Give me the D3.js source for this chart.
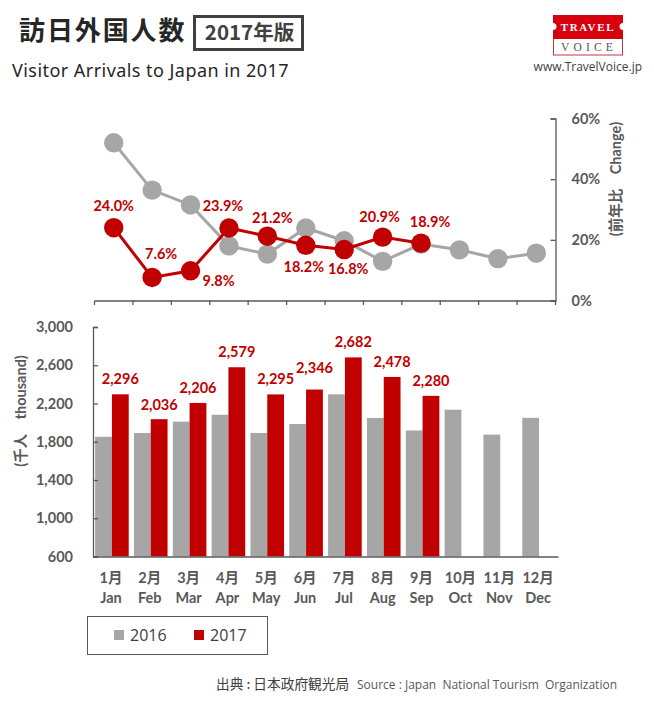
<!DOCTYPE html>
<html>
<head>
<meta charset="utf-8">
<script src="https://d3js.org/d3.v7.min.js"></script>
<style>
  body { margin: 0; background: #fff; }
  text { font-family: Lato, "Noto Sans CJK JP", sans-serif; }
  .jp { font-family: "Noto Sans CJK JP", sans-serif; }
  .axis-label { fill: #595959; font-weight: 700; font-size: 14.5px; }
  .value-label { fill: #C00000; font-weight: 700; font-size: 14.5px; }
</style>
</head>
<body>
<div id="chart"></div>
<script>
// Data
var months = ["1月", "2月", "3月", "4月", "5月", "6月", "7月", "8月", "9月", "10月", "11月", "12月"];
var monthsEn = ["Jan", "Feb", "Mar", "Apr", "May", "Jun", "Jul", "Aug", "Sep", "Oct", "Nov", "Dec"];
var visitors2016 = [1852, 1891, 2010, 2082, 1892, 1985, 2296, 2049, 1918, 2135, 1875, 2050];
var visitors2017 = [2296, 2036, 2206, 2579, 2295, 2346, 2682, 2478, 2280];
var change2016 = [52.0, 36.4, 31.5, 18.0, 15.3, 23.9, 19.7, 12.9, 18.6, 16.7, 13.8, 15.6];
var change2017 = [24.0, 7.6, 9.8, 23.9, 21.2, 18.2, 16.8, 20.9, 18.9];
var barTicks = [600, 1000, 1400, 1800, 2200, 2600, 3000];
var changeTicks = [0, 20, 40, 60];

// Hand placed label offsets, month by month
var changeLabelDx = [0, 9, 28, -6, 5, -2, 4, -3, 9];
var changeLabelDy = [-22, -24, 10, -23, -19, 21, 19, -21, -22];
var barLabelDy = [-16, -15, -15, -16, -16, -22, -16, -15, -15];

var GREY = "#A6A6A6", RED = "#C00000", AXIS = "#595959";

var svg = d3.select("#chart").append("svg")
  .attr("width", 654)
  .attr("height", 708);

// ---- header ----
svg.append("text").attr("class", "jp")
  .attr("x", 19).attr("y", 40)
  .attr("font-size", 26).attr("font-weight", 700).attr("letter-spacing", 1.9)
  .attr("fill", "#262626")
  .text("訪日外国人数");

svg.append("rect")
  .attr("x", 194.5).attr("y", 16.5).attr("width", 108).attr("height", 33)
  .attr("fill", "none").attr("stroke", "#404040").attr("stroke-width", 3);

svg.append("text").attr("class", "jp")
  .attr("x", 249.5).attr("y", 39.5).attr("text-anchor", "middle")
  .attr("font-size", 20.5).attr("font-weight", 700)
  .attr("fill", "#404040")
  .text("2017年版");

svg.append("text")
  .attr("x", 12).attr("y", 77)
  .style("font-family", "'Noto Sans'")
  .attr("font-size", 18).attr("letter-spacing", 0.45)
  .attr("fill", "#262626")
  .text("Visitor Arrivals to Japan in 2017");

// ---- logo ----
var logo = svg.append("g").attr("transform", "translate(553,15)");
logo.append("rect").attr("x", 0.5).attr("y", 20).attr("width", 69).attr("height", 20)
  .attr("fill", "#fff").attr("stroke", "#C0394B");
logo.append("path")
  .attr("d", "M0 0H70V8A3.5 3.5 0 0 0 70 15V24H0V15A3.5 3.5 0 0 0 0 8Z")
  .attr("fill", "#D7000F");
logo.append("text")
  .attr("x", 35).attr("y", 15.5).attr("text-anchor", "middle")
  .style("font-family", "'Liberation Serif'")
  .attr("font-size", 11).attr("font-weight", 700).attr("letter-spacing", 1.7)
  .attr("fill", "#fff").text("TRAVEL");
logo.append("text")
  .attr("x", 36).attr("y", 36).attr("text-anchor", "middle")
  .style("font-family", "'Liberation Serif'")
  .attr("font-size", 11.5).attr("letter-spacing", 4.2)
  .attr("fill", "#555").text("VOICE");
svg.append("text")
  .attr("x", 642).attr("y", 71).attr("text-anchor", "end")
  .style("font-family", "'Open Sans'")
  .attr("font-size", 12).attr("fill", "#404040")
  .text("www.TravelVoice.jp");

// ---- top chart: change on previous year ----
var xLine = d3.scaleBand().domain(months).range([94.5, 555.5]);
var yLine = d3.scaleLinear().domain([0, 60]).range([300.5, 118.5]);

var bottomAxis = svg.append("g")
  .attr("transform", "translate(0,300.5)")
  .call(d3.axisBottom(xLine).tickSize(0).tickFormat(""));
bottomAxis.select(".domain").attr("stroke", AXIS).attr("stroke-width", 1.3);
bottomAxis.selectAll(".edge")
  .data(d3.range(months.length + 1))
  .enter().append("line")
  .attr("class", "edge")
  .attr("x1", d => xLine.range()[0] + d * xLine.step())
  .attr("x2", d => xLine.range()[0] + d * xLine.step())
  .attr("y1", 0).attr("y2", 4.5)
  .attr("stroke", AXIS).attr("stroke-width", 1.3);

var rightAxis = svg.append("g")
  .attr("transform", "translate(555.5,0)")
  .call(d3.axisRight(yLine).tickValues(changeTicks).tickSize(-5).tickPadding(16).tickFormat(d => d + "%"));
rightAxis.select(".domain").attr("stroke", AXIS).attr("stroke-width", 1.3);
rightAxis.selectAll("line").attr("stroke", AXIS).attr("stroke-width", 1.3);
rightAxis.selectAll("text").attr("class", "axis-label").attr("font-family", null).attr("font-size", null);

var lineGen = d3.line()
  .x((d, i) => xLine(months[i]) + xLine.bandwidth() / 2)
  .y(d => yLine(d));

function drawChange(values, color) {
  svg.append("path")
    .attr("d", lineGen(values))
    .attr("fill", "none")
    .attr("stroke", color)
    .attr("stroke-width", 3);
  svg.append("g").selectAll("circle")
    .data(values)
    .enter().append("circle")
    .attr("cx", (d, i) => xLine(months[i]) + xLine.bandwidth() / 2)
    .attr("cy", d => yLine(d))
    .attr("r", 9.7)
    .attr("fill", color);
}
drawChange(change2016, GREY);
drawChange(change2017, RED);

svg.append("g").selectAll("text")
  .data(change2017)
  .enter().append("text")
  .attr("class", "value-label")
  .attr("text-anchor", "middle")
  .attr("dominant-baseline", "central")
  .attr("x", (d, i) => xLine(months[i]) + xLine.bandwidth() / 2 + changeLabelDx[i])
  .attr("y", (d, i) => yLine(d) + changeLabelDy[i])
  .text(d => d.toFixed(1) + "%");

svg.append("text")
  .attr("class", "axis-label")
  .attr("transform", "translate(615,179) rotate(-90)")
  .attr("text-anchor", "middle")
  .attr("dominant-baseline", "central")
  .text("(前年比　Change)");

// ---- bottom chart: arrivals ----
var xBar = d3.scaleBand().domain(months).range([93, 558]).paddingInner(0.135).paddingOuter(0.055);
var xSeries = d3.scaleBand().domain(["2016", "2017"]).range([0, xBar.bandwidth()]);
var yBar = d3.scaleLinear().domain([600, 3000]).range([556.5, 327]);

function drawBars(values, key, color) {
  svg.append("g").selectAll("rect")
    .data(values)
    .enter().append("rect")
    .attr("x", (d, i) => xBar(months[i]) + xSeries(key))
    .attr("y", d => yBar(d))
    .attr("width", xSeries.bandwidth())
    .attr("height", d => yBar(600) - yBar(d))
    .attr("fill", color);
}
drawBars(visitors2016, "2016", GREY);
drawBars(visitors2017, "2017", RED);

var leftAxis = svg.append("g")
  .attr("transform", "translate(93,0)")
  .call(d3.axisLeft(yBar).tickValues(barTicks).tickSize(-5).tickPadding(20).tickFormat(d3.format(",")));
leftAxis.select(".domain").attr("stroke", AXIS).attr("stroke-width", 1.3);
leftAxis.selectAll("line").attr("stroke", AXIS).attr("stroke-width", 1.3);
leftAxis.selectAll("text").attr("class", "axis-label").attr("font-family", null).attr("font-size", null);

var barBottom = svg.append("g")
  .attr("transform", "translate(0,556.5)")
  .call(d3.axisBottom(xBar).tickSize(0).tickFormat(""));
barBottom.select(".domain").attr("stroke", AXIS).attr("stroke-width", 1.3);

svg.append("g").selectAll("text")
  .data(visitors2017)
  .enter().append("text")
  .attr("class", "value-label")
  .attr("text-anchor", "middle")
  .attr("dominant-baseline", "central")
  .attr("x", (d, i) => xBar(months[i]) + xSeries("2017") + xSeries.bandwidth() / 2)
  .attr("y", (d, i) => yBar(d) + barLabelDy[i])
  .text(d => d3.format(",")(d));

var monthLabels = svg.append("g").selectAll("g")
  .data(months)
  .enter().append("g")
  .attr("transform", d => "translate(" + (xBar(d) + xBar.bandwidth() / 2 - 1) + ",0)");
monthLabels.append("text")
  .attr("class", "axis-label")
  .attr("text-anchor", "middle")
  .attr("y", 583)
  .text(d => d);
monthLabels.append("text")
  .attr("class", "axis-label")
  .attr("text-anchor", "middle")
  .attr("y", 603)
  .text((d, i) => monthsEn[i]);

svg.append("text")
  .attr("class", "axis-label")
  .attr("transform", "translate(20,411) rotate(-90)")
  .attr("text-anchor", "middle")
  .attr("dominant-baseline", "central")
  .text("(千人　thousand)");

// ---- legend ----
svg.append("rect")
  .attr("x", 87.5).attr("y", 616.5).attr("width", 180).attr("height", 38)
  .attr("fill", "none").attr("stroke", "#595959").attr("stroke-width", 1);

var legend = svg.append("g").selectAll("g")
  .data([["2016", GREY, 114], ["2017", RED, 194]])
  .enter().append("g")
  .attr("transform", d => "translate(" + d[2] + ",630)");
legend.append("rect")
  .attr("width", 10).attr("height", 10)
  .attr("fill", d => d[1]);
legend.append("text")
  .attr("x", 16).attr("y", 11)
  .style("font-family", "'Open Sans'")
  .attr("font-size", 16).attr("fill", "#404040")
  .text(d => d[0]);

// ---- source ----
svg.append("text").attr("class", "jp")
  .attr("x", 216).attr("y", 689)
  .attr("font-size", 13.7).attr("fill", "#404040")
  .text("出典 : 日本政府観光局");
svg.append("text")
  .attr("x", 617).attr("y", 689).attr("text-anchor", "end")
  .style("font-family", "'Open Sans'")
  .style("white-space", "pre")
  .attr("font-size", 12).attr("fill", "#595959")
  .text("Source : Japan  National Tourism  Organization");
</script>
</body>
</html>
